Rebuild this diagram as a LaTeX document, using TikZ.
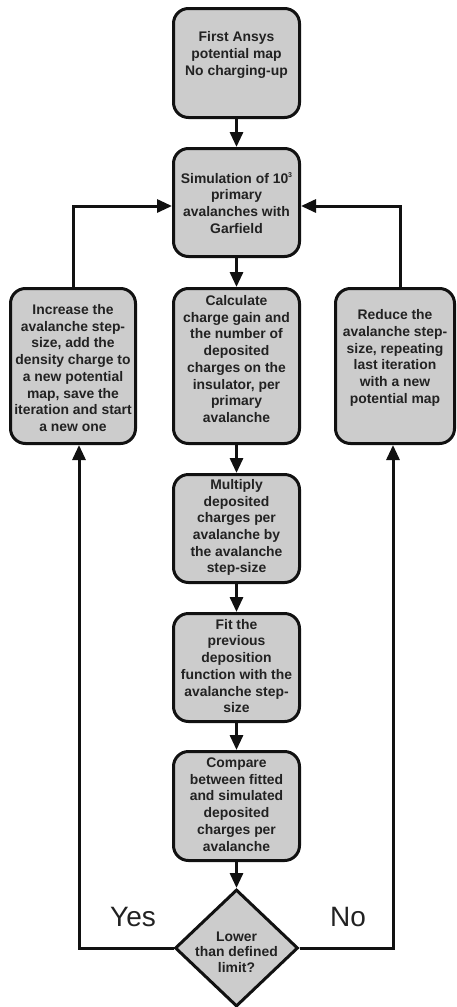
\documentclass[tikz,border=0pt]{standalone}
\usepackage{fontspec}
\setmainfont{Liberation Sans}
\usetikzlibrary{arrows.meta,shapes.geometric}
\definecolor{boxfill}{HTML}{CCCCCC}
\definecolor{inkc}{HTML}{111111}
\definecolor{txtc}{HTML}{222222}
\begin{document}
\begin{tikzpicture}[x=1pt,y=-1pt,
  box/.style={draw=inkc,fill=boxfill,line width=3pt,rounded corners=15pt,inner sep=0pt},
  dia/.style={draw=inkc,fill=boxfill,line width=3pt,diamond,inner sep=0pt,minimum width=123pt,minimum height=117pt},
  txt/.style={align=center,inner sep=0pt,text=txtc,font=\bfseries\fontsize{13.9}{16.7}\selectfont},
  lab/.style={inner sep=0pt,text=txtc,font=\fontsize{28}{30}\selectfont},
  conn/.style={draw=inkc,line width=3pt,-{Triangle[length=15pt,width=13pt]}}]
\useasboundingbox (0,0) rectangle (456,1007);
% boxes
\node[box,minimum width=126pt,minimum height=109pt] (b1) at (236.5,63) {};
\node[box,minimum width=126pt,minimum height=108pt] (b2) at (236.5,202.5) {};
\node[box,minimum width=125pt,minimum height=155pt] (l) at (73,366) {};
\node[box,minimum width=126pt,minimum height=155pt] (c) at (236.5,366) {};
\node[box,minimum width=119pt,minimum height=155pt] (r) at (395,366) {};
\node[box,minimum width=126pt,minimum height=108pt] (m) at (236.5,528.5) {};
\node[box,minimum width=126pt,minimum height=108pt] (f) at (236.5,667.5) {};
\node[box,minimum width=126pt,minimum height=109pt] (cp) at (236.5,806) {};
\node[dia] (d) at (236.5,948) {};
% texts
\node[txt] (t1) at (236.5,55) {First Ansys\\potential map\\No charging-up};
\node[txt] (t2) at (236.5,203) {Simulation of 10{\fontsize{7}{7}\selectfont\raisebox{5.5pt}{3}}\\primary\\avalanches with\\Garfield};
\node[txt] (tl) at (73,368) {Increase the\\avalanche step-\\size, add the\\density charge to\\a new potential\\map, save the\\iteration and start\\a new one};
\node[txt] (tc) at (236.5,359) {Calculate\\charge gain and\\the number of\\deposited\\charges on the\\insulator, per\\primary\\avalanche};
\node[txt] (tr) at (395,358) {Reduce the\\avalanche step-\\size, repeating\\last iteration\\with a new\\potential map};
\node[txt] (tm) at (236.5,527.5) {Multiply\\deposited\\charges per\\avalanche by\\the avalanche\\step-size};
\node[txt] (tf) at (236.5,666) {Fit the\\previous\\deposition\\function with the\\avalanche step-\\size};
\node[txt] (tcp) at (236.5,804.5) {Compare\\between fitted\\and simulated\\deposited\\charges per\\avalanche};
\node[txt,font=\bfseries\fontsize{13.9}{15.6}\selectfont] (td) at (236.5,952) {Lower\\than defined\\limit?};
\node[lab] (yes) at (133,917) {Yes};
\node[lab] (no) at (348,917) {No};
% connectors
\draw[conn] (b1) -- (b2);
\draw[conn] (b2) -- (c);
\draw[conn] (c) -- (m);
\draw[conn] (m) -- (f);
\draw[conn] (f) -- (cp);
\draw[conn] (cp) -- (d);
\draw[conn] (l.north) |- ([yshift=-3.5pt]b2.west);
\draw[conn] ([xshift=5.5pt]r.north) |- ([yshift=-3.5pt]b2.east);
\draw[conn] (d.west) -| ([xshift=6pt]l.south);
\draw[conn] (d.east) -| ([xshift=-2pt]r.south);
\end{tikzpicture}
\end{document}
